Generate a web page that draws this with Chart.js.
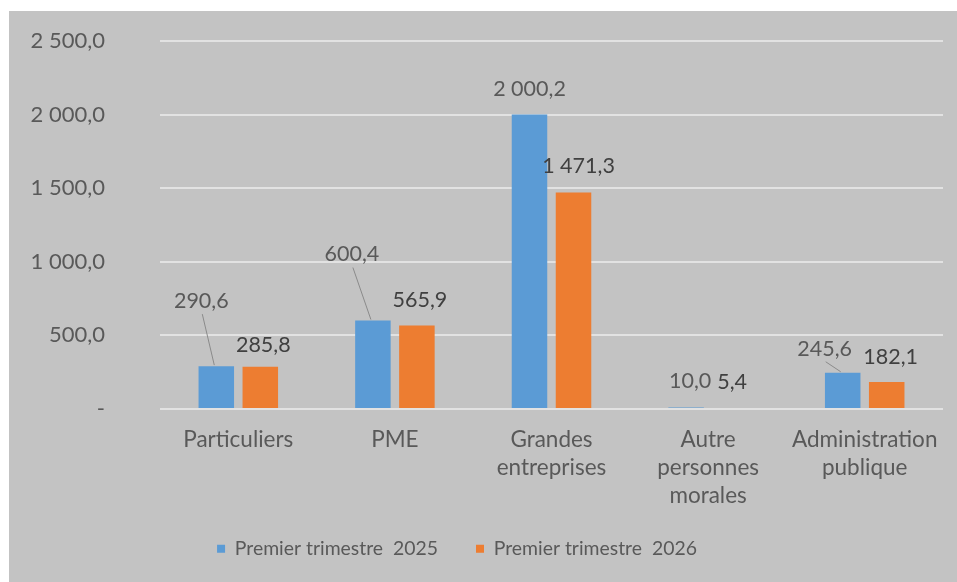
<!DOCTYPE html>
<html lang="fr">
<head>
<meta charset="utf-8">
<script src="https://cdn.jsdelivr.net/npm/chart.js@4/dist/chart.umd.min.js"></script>
<style>
  html, body { margin: 0; padding: 0; background: #fff; }
  #frame { position: absolute; left: 9px; top: 11px; width: 948px; height: 571px; background: #c3c3c3; }
</style>
</head>
<body>
<div id="frame"><canvas id="chart"></canvas></div>
<script>
const categories = [['Particuliers'], ['PME'], ['Grandes', 'entreprises'], ['Autre', 'personnes', 'morales'], ['Administration', 'publique']]
const values2025 = [290.6, 600.4, 2000.2, 10.0, 245.6]
const values2026 = [285.8, 565.9, 1471.3, 5.4, 182.1]
const seriesNames = ['Premier trimestre  2025', 'Premier trimestre  2026']
const yTicks = [0, 500, 1000, 1500, 2000, 2500]

// position des étiquettes par rapport au haut de la barre : [dx, dy, trait de rappel]
const labelOffsets = [
  [[-15, -65, true], [-21, -66, true], [0, -25], [4, -26], [-18, -24, true]],
  [[3, -22], [3, -26], [5, -26], [2, -26], [4, -25]]
]
const labelColors = ['#595959', '#404040']

const FONT = 'Lato'
const TEXT = '#595959'

function fmt(v) {
  if (v === 0) return '-'
  const [int, dec] = v.toFixed(1).split('.')
  return int.replace(/\B(?=(\d{3})+(?!\d))/g, ' ') + ',' + dec
}

const barLabels = {
  id: 'barLabels',
  afterDatasetsDraw(chart) {
    const ctx = chart.ctx
    ctx.save()
    ctx.font = `21.5px ${FONT}`
    ctx.textAlign = 'center'
    ctx.textBaseline = 'middle'
    chart.data.datasets.forEach((ds, i) => {
      chart.getDatasetMeta(i).data.forEach((bar, j) => {
        const [dx, dy, leader] = labelOffsets[i][j]
        const x = bar.x + dx
        const y = bar.y + dy
        if (leader) {
          ctx.strokeStyle = '#8a8a8a'
          ctx.lineWidth = 1
          ctx.beginPath()
          ctx.moveTo(x + 1, y + 13)
          ctx.lineTo(bar.x - 2, bar.y - 1)
          ctx.stroke()
        }
        ctx.fillStyle = labelColors[i]
        ctx.fillText(fmt(ds.data[j]), x, y)
      })
    })
    ctx.restore()
  }
}

// place la légende comme dans l'original (un peu à gauche, plus haut)
const legendShift = {
  id: 'legendShift',
  afterLayout(chart) {
    const lg = chart.legend
    lg.left -= 19
    lg.right -= 19
    lg.top -= 13.6
    lg.bottom -= 13.6
  }
}

function start() {
  Chart.defaults.font.family = FONT
  Chart.defaults.color = TEXT

  const ctx = document.getElementById('chart').getContext('2d')
  new Chart(ctx, {
    type: 'bar',
    data: {
      labels: categories,
      datasets: [
        { label: seriesNames[0], data: values2025, backgroundColor: '#5b9bd5' },
        { label: seriesNames[1], data: values2026, backgroundColor: '#ed7d31' }
      ]
    },
    options: {
      responsive: true,
      maintainAspectRatio: false,
      animation: false,
      categoryPercentage: 0.562,
      barPercentage: 0.807,
      layout: { padding: { left: 0, right: 14, top: 30, bottom: 0 } },
      scales: {
        x: {
          grid: { display: false },
          border: { display: false },
          ticks: {
            autoSkip: false,
            maxRotation: 0,
            padding: 9,
            color: TEXT,
            font: { size: 22.5, lineHeight: 1.245 }
          },
          afterFit: scale => { scale.height = 105.7 }
        },
        y: {
          min: 0,
          max: 2500,
          border: { display: false },
          grid: { color: '#e2e2e2', lineWidth: 2, drawTicks: true, tickLength: 47, tickColor: 'rgba(0,0,0,0)' },
          afterBuildTicks: scale => { scale.ticks = yTicks.map(v => ({ value: v })) },
          ticks: {
            padding: 8,
            color: TEXT,
            font: { size: 22 },
            callback: v => fmt(v)
          },
          afterFit: scale => { scale.width = 151 }
        }
      },
      plugins: {
        tooltip: { enabled: false },
        legend: {
          position: 'bottom',
          labels: {
            boxWidth: 8,
            boxHeight: 8,
            padding: 38,
            color: TEXT,
            font: { size: 19.4 }
          }
        }
      }
    },
    plugins: [barLabels, legendShift]
  })
}

document.addEventListener('DOMContentLoaded', start)
</script>
</body>
</html>
